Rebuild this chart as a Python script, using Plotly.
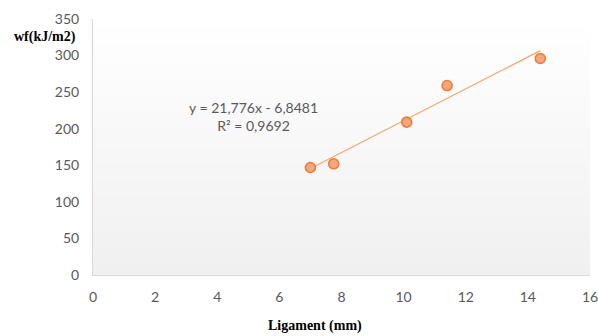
import numpy as np
import plotly.graph_objects as go

# Ligament length (mm) and specific essential work of fracture (kJ/m2)
ligament_mm = [7.0, 7.75, 10.1, 11.4, 14.4]
wf_kj_m2 = [147, 152, 209, 259, 296]

# Linear trendline as reported in the equation label
slope = 21.776
intercept = -6.8481
r_squared = 0.9692

x_ticks = [0, 2, 4, 6, 8, 10, 12, 14, 16]
y_ticks = [0, 50, 100, 150, 200, 250, 300, 350]

trend_x = np.array([min(ligament_mm), max(ligament_mm)])
trend_y = slope * trend_x + intercept

fig = go.Figure()

fig.add_trace(go.Scatter(
    x=trend_x, y=trend_y, mode="lines",
    line=dict(color="#f4a46e", width=1.2),
    hoverinfo="skip", showlegend=False,
))
fig.add_trace(go.Scatter(
    x=ligament_mm, y=wf_kj_m2, mode="markers",
    marker=dict(size=10, color="#f4a582", line=dict(color="#ed7d31", width=1.6)),
    showlegend=False,
))

# Vertical gradient fill of the plot area (white at top to light grey at bottom)
n_strips = 60
shapes = []
for i in range(n_strips):
    t = i / (n_strips - 1)
    v = round(255 - t * (255 - 240))
    shapes.append(dict(
        type="rect", xref="x domain", yref="y domain",
        x0=0, x1=1, y0=1 - (i + 1) / n_strips, y1=1 - i / n_strips + 0.002,
        fillcolor=f"rgb({v},{v},{v})", line=dict(width=0), layer="below",
    ))

def fmt(v, nd):
    return f"{v:.{nd}f}".replace(".", ",")

eq_text = (f"y = {fmt(slope, 3)}x - {fmt(-intercept, 4)}<br>"
           f"R² = {fmt(r_squared, 4)}")

# Pixel geometry of the plot area
W, H = 598, 336
ML, MR, MT, MB = 93, 8, 19, 61
plot_w = W - ML - MR
plot_h = H - MT - MB

def px_to_paper(px, py):
    return (px - ML) / plot_w, (H - MB - py) / plot_h

ax, ay = px_to_paper(253, 116)
bx, by = px_to_paper(45, 37)
cx, cy = px_to_paper(315, 326)

serif = "'Liberation Serif', 'Times New Roman', serif"

fig.update_layout(
    width=W, height=H,
    margin=dict(l=ML, r=MR, t=MT, b=MB),
    paper_bgcolor="white", plot_bgcolor="white",
    font=dict(family="Lato, 'Open Sans', sans-serif", size=14, color="#595959"),
    shapes=shapes,
    xaxis=dict(
        range=[0, 16], tickvals=x_ticks, showgrid=False, zeroline=False,
        showline=True, linecolor="#d9d9d9", linewidth=1,
        ticks="outside", ticklen=9, tickcolor="rgba(0,0,0,0)",
        tickfont=dict(size=14, color="#595959"),
        ticklabeloverflow="allow", automargin=False,
    ),
    yaxis=dict(
        range=[0, 350], tickvals=y_ticks, showgrid=False, zeroline=False,
        showline=True, linecolor="#d9d9d9", linewidth=1,
        ticks="outside", ticklen=10, tickcolor="rgba(0,0,0,0)",
        tickfont=dict(size=14, color="#595959"),
        ticklabeloverflow="allow", automargin=False,
    ),
    annotations=[
        dict(text=eq_text, x=ax, y=ay, xref="paper", yref="paper",
             xanchor="center", yanchor="middle",
             showarrow=False, align="center",
             font=dict(size=14, color="#595959")),
        dict(text="<b>wf(kJ/m2)</b>", x=bx, y=by, xref="paper", yref="paper",
             xanchor="center", yanchor="middle", showarrow=False,
             font=dict(family=serif, size=14, color="black")),
        dict(text="<b>Ligament (mm)</b>", x=cx, y=cy, xref="paper", yref="paper",
             xanchor="center", yanchor="middle", showarrow=False,
             font=dict(family=serif, size=14, color="black")),
    ],
)

fig.write_html("out.html")
